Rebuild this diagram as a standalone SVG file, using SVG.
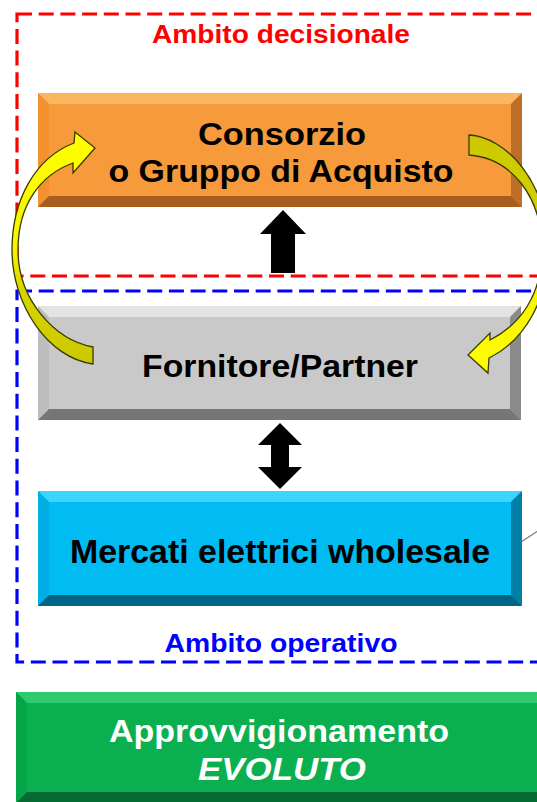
<svg xmlns="http://www.w3.org/2000/svg" width="537" height="802" viewBox="0 0 537 802">
<style>
.lbl{font-family:"Liberation Sans",Arial,sans-serif;font-weight:bold;text-anchor:middle}
.dk{fill:#000}
.wh{fill:#fff}
.zone{fill:none;stroke-width:3.2;stroke-dasharray:15 6.7}
.o-m{fill:#F79A3B}.o-t{fill:#FBB660}.o-l{fill:#F2922F}.o-r{fill:#BD6F28}.o-b{fill:#A65E1F}
.g-m{fill:#C9C9C9}.g-t{fill:#E3E3E3}.g-l{fill:#BDBDBD}.g-r{fill:#8A8A8A}.g-b{fill:#767676}
.b-m{fill:#00BCF2}.b-t{fill:#3DD5FF}.b-l{fill:#00AEE3}.b-r{fill:#007FA6}.b-b{fill:#006484}
.n-m{fill:#0AB04F}.n-t{fill:#2DCB6E}.n-l{fill:#05A548}.n-r{fill:#067A38}.n-b{fill:#056B32}
.curv{stroke:#3A3A00;stroke-width:1.3;stroke-linejoin:miter}
</style>
<defs>
<linearGradient id="gL" gradientUnits="userSpaceOnUse" x1="0" y1="135" x2="0" y2="365">
<stop offset="0" stop-color="#FFFF00"/><stop offset="0.5" stop-color="#F6F400"/><stop offset="0.68" stop-color="#D6D300"/><stop offset="1" stop-color="#CCC800"/>
</linearGradient>
<linearGradient id="gR" gradientUnits="userSpaceOnUse" x1="0" y1="135" x2="0" y2="375">
<stop offset="0" stop-color="#CCC800"/><stop offset="0.45" stop-color="#D6D300"/><stop offset="0.65" stop-color="#F6F400"/><stop offset="1" stop-color="#FFFF00"/>
</linearGradient>
</defs>
<rect width="537" height="802" fill="#fff"/>

<g id="zone-decisionale">
<rect class="zone" x="17" y="14" width="545" height="262" stroke="#FF0000"/>
<text class="lbl" x="281" y="43" font-size="26" textLength="258" lengthAdjust="spacingAndGlyphs" fill="#FF0000">Ambito decisionale</text>
</g>

<g id="zone-operativo">
<rect class="zone" x="17" y="291" width="545" height="371" stroke="#0000FF"/>
<text class="lbl" x="281" y="652" font-size="26" textLength="233" lengthAdjust="spacingAndGlyphs" fill="#0000FF">Ambito operativo</text>
</g>

<g id="node-consorzio">
<rect class="o-m" x="38" y="93" width="484" height="114"/>
<polygon class="o-t" points="38,93 522,93 511,104 49,104"/>
<polygon class="o-l" points="38,93 49,104 49,196 38,207"/>
<polygon class="o-r" points="522,93 522,207 511,196 511,104"/>
<polygon class="o-b" points="38,207 49,196 511,196 522,207"/>
<text class="lbl dk" x="282" y="145" font-size="32" textLength="168" lengthAdjust="spacingAndGlyphs">Consorzio</text>
<text class="lbl dk" x="281" y="182" font-size="32" textLength="345" lengthAdjust="spacingAndGlyphs">o Gruppo di Acquisto</text>
</g>

<g id="node-fornitore">
<rect class="g-m" x="38" y="306" width="483" height="114"/>
<polygon class="g-t" points="38,306 521,306 510,317 49,317"/>
<polygon class="g-l" points="38,306 49,317 49,409 38,420"/>
<polygon class="g-r" points="521,306 521,420 510,409 510,317"/>
<polygon class="g-b" points="38,420 49,409 510,409 521,420"/>
<text class="lbl dk" x="280" y="377" font-size="31" textLength="276" lengthAdjust="spacingAndGlyphs">Fornitore/Partner</text>
</g>

<g id="node-mercati">
<rect class="b-m" x="38" y="491" width="484" height="115"/>
<polygon class="b-t" points="38,491 522,491 511,502 49,502"/>
<polygon class="b-l" points="38,491 49,502 49,595 38,606"/>
<polygon class="b-r" points="522,491 522,606 511,595 511,502"/>
<polygon class="b-b" points="38,606 49,595 511,595 522,606"/>
<text class="lbl dk" x="280" y="563" font-size="33" textLength="420" lengthAdjust="spacingAndGlyphs">Mercati elettrici wholesale</text>
</g>

<g id="node-approvvigionamento">
<rect class="n-m" x="16" y="692" width="540" height="111"/>
<polygon class="n-t" points="16,692 556,692 545,703 27,703"/>
<polygon class="n-l" points="16,692 27,703 27,792 16,803"/>
<polygon class="n-b" points="16,803 27,792 545,792 556,803"/>
<text class="lbl wh" x="279" y="742" font-size="32" textLength="340" lengthAdjust="spacingAndGlyphs">Approvvigionamento</text>
<text class="lbl wh" x="282" y="780" font-size="32" font-style="italic" textLength="168" lengthAdjust="spacingAndGlyphs">EVOLUTO</text>
</g>

<g id="connectors">
<polygon fill="#000" points="283,210 306,234 295,234 295,273 271,273 271,234 260,234"/>
<polygon fill="#000" points="280,423 302,445 289,445 289,467 302,467 280,489 258,467 271,467 271,445 258,445"/>
<path class="curv" fill="url(#gL)" d="M93,347 C55,340 18,300 18,250 C18,205 40,175 73,163 L73,173 L95,148 L75,132 L74,143 C35,158 12,200 12,250 C12,305 48,358 93,364 Z"/>
<path class="curv" fill="url(#gR)" d="M469,135 C505,137 548,180 548,250 C548,300 525,340 489,358 L488,373 L468,355 L490,333 L490,340 C520,325 542,295 542,250 C542,195 510,158 469,155 Z"/>
<line x1="521" y1="542" x2="540" y2="529.5" stroke="#7F7F7F" stroke-width="1.3"/>
</g>
</svg>
